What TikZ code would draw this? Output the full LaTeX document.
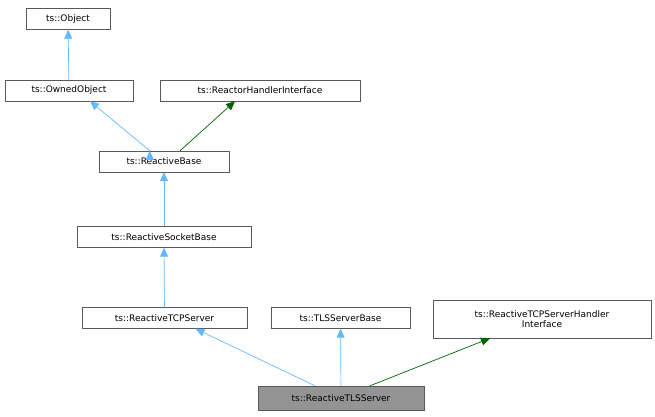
\documentclass[tikz,border=0pt]{standalone}
\usepackage{fontspec}
\setmainfont{DejaVu Sans}
\usetikzlibrary{arrows.meta}
\begin{document}
\begin{tikzpicture}[x=1pt,y=-1pt,
  box/.style={draw=black!65,fill=white,inner sep=0pt,minimum height=21pt,font=\fontsize{9}{10.5}\selectfont,align=center,anchor=center},
  pub/.style={draw={rgb,255:red,99;green,184;blue,255},-{Triangle[length=9pt,width=8pt]},line width=0.7pt},
  prot/.style={draw={rgb,255:red,0;green,100;blue,0},-{Triangle[length=9pt,width=8pt]},line width=0.7pt}]
\useasboundingbox (0,0) rectangle (655,417);
\node[box,minimum width=84pt] (obj) at (68,19) {ts::Object};
\node[box,minimum width=128pt] (own) at (69,90.5) {ts::OwnedObject};
\node[box,minimum width=200pt] (rhi) at (260,90.5) {ts::ReactorHandlerInterface};
\node[box,minimum width=130pt] (rb) at (164,161.5) {ts::ReactiveBase};
\node[box,minimum width=174pt] (rsb) at (164,237) {ts::ReactiveSocketBase};
\node[box,minimum width=165pt] (tcp) at (164.5,318) {ts::ReactiveTCPServer};
\node[box,minimum width=139pt] (tls) at (340.5,318) {ts::TLSServerBase};
\node[box,minimum width=218pt,minimum height=38pt] (hi) at (542,319) {ts::ReactiveTCPServerHandler\\Interface};
\node[box,minimum width=166pt,minimum height=24pt,fill=black!42] (main) at (341,398) {ts::ReactiveTLSServer};
\draw[pub] (own) -- (obj);
\draw[pub] (rb.north west) ++(51,0) coordinate (a1) ;
\draw[pub] (a1) -- (own.south -| 90,0) ;
\draw[prot] ([xshift=16pt]rb.north) -- ([xshift=-25pt]rhi.south);
\draw[pub] (rsb) -- (rb);
\draw[pub] (tcp) -- (rsb);
\draw[pub] (main) -- (tls);
\draw[pub] ([xshift=-26pt]main.north) -- ([xshift=31pt]tcp.south);
\draw[prot] ([xshift=29pt]main.north) -- ([xshift=-52pt]hi.south);
\end{tikzpicture}
\end{document}
